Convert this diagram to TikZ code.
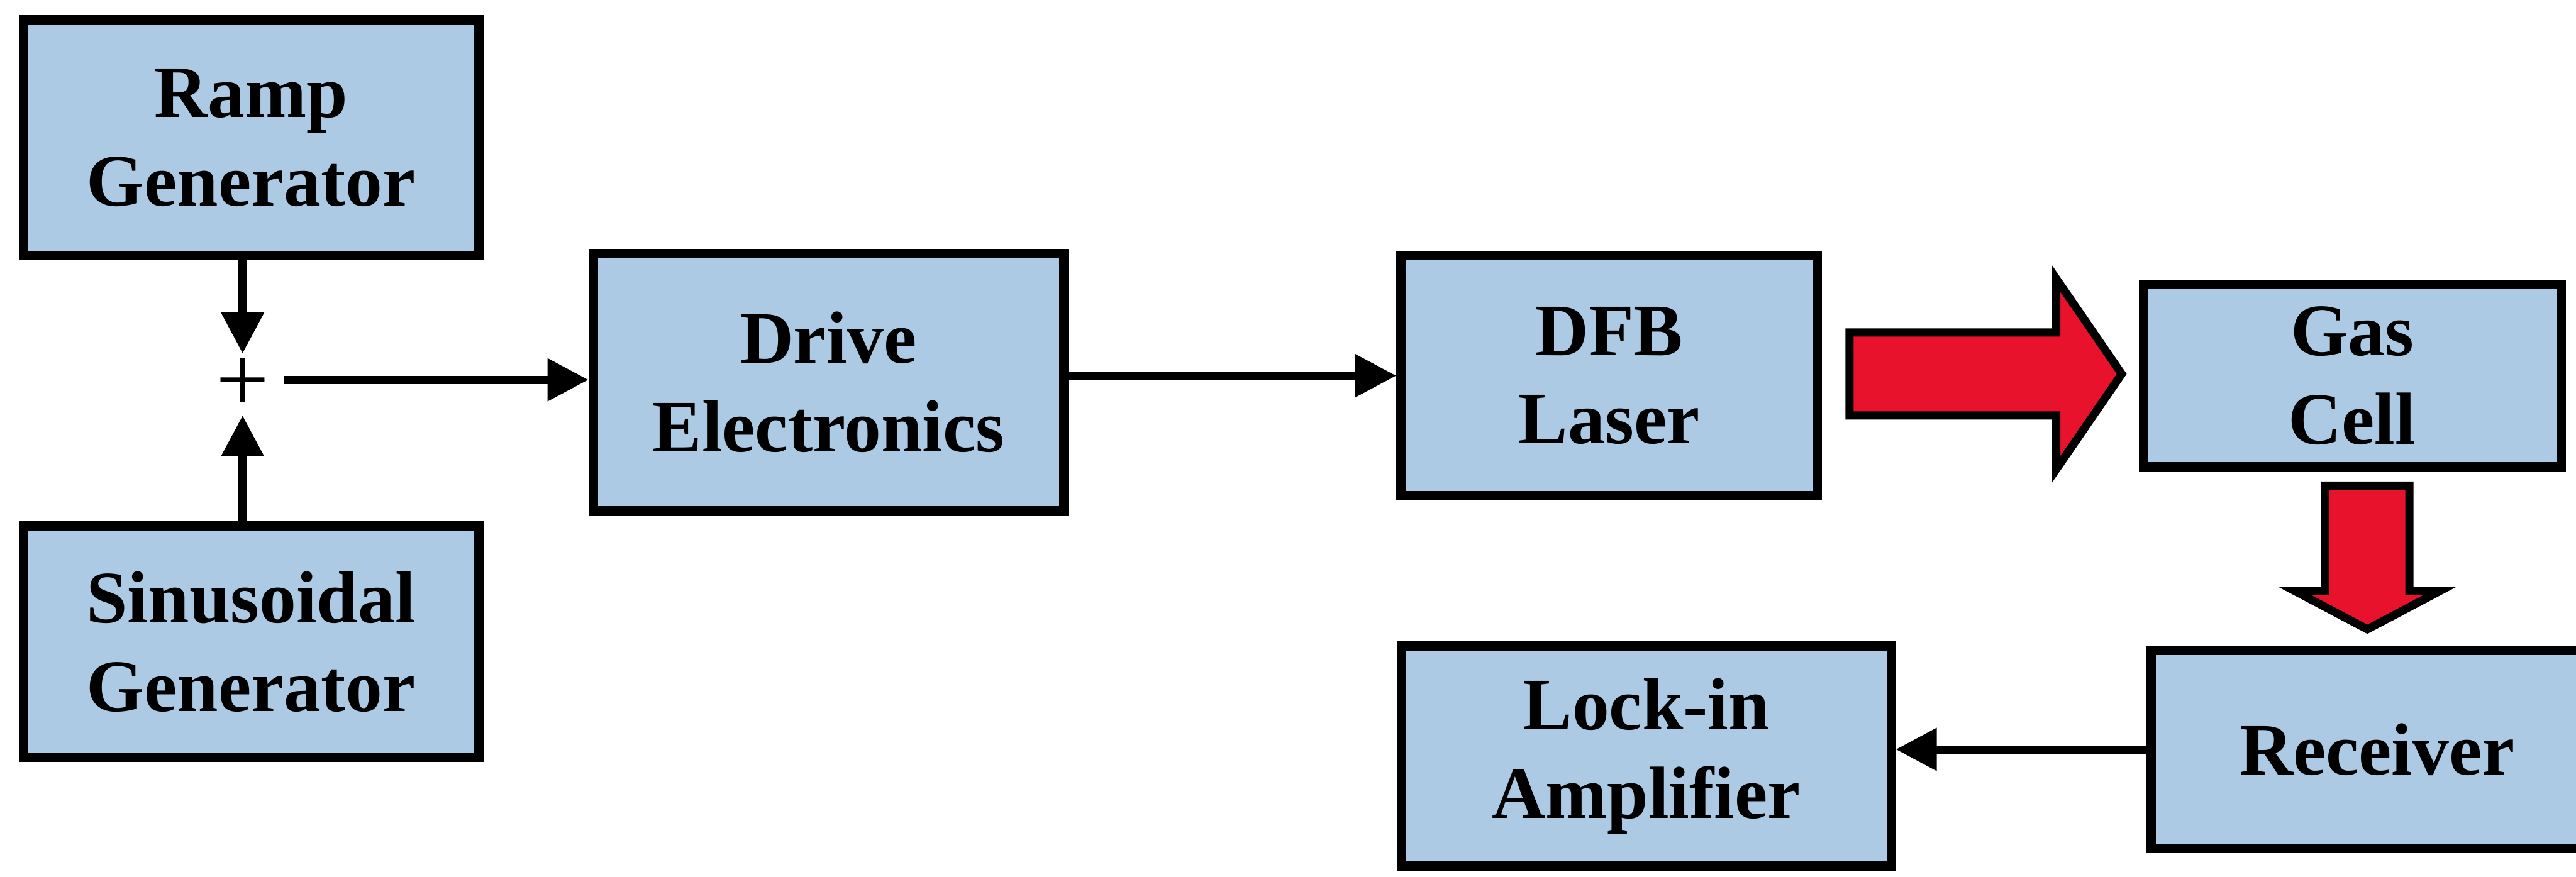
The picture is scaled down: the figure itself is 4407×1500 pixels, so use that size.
\documentclass[tikz,border=0pt]{standalone}
\usepackage{fontspec}
\setmainfont{Liberation Serif}
\usetikzlibrary{arrows.meta,calc}
\definecolor{boxblue}{RGB}{172,202,228}
\definecolor{laserred}{RGB}{232,18,45}
\begin{document}
\begin{tikzpicture}[x=0.01cm,y=-0.01cm,
  blk/.style={draw=black, line width=0.16cm, fill=boxblue, rectangle, inner sep=0pt,
              align=center, font=\fontsize{36}{43}\selectfont\bfseries},
  arr/.style={line width=0.14cm, -{Triangle[length=0.7cm,width=0.7cm]}},
  redarr/.style={draw=black, fill=laserred, line width=0.14cm, line join=miter},
  plussign/.style={font=\fontsize{46}{46}\selectfont, inner sep=0pt, outer sep=0pt}
]
\useasboundingbox (0,0) rectangle (4407,1500);
\clip (0,0) rectangle (4407,1500);
\fill[white] (0,0) rectangle (4407,1500);

% boxes
\node[blk, minimum width=7.79cm, minimum height=4.03cm] (ramp) at (429.5,235.5) {Ramp\\Generator};
\node[blk, minimum width=7.79cm, minimum height=3.96cm] (sin) at (429.5,1098) {Sinusoidal\\Generator};
\node[blk, minimum width=8.05cm, minimum height=4.40cm] (drive) at (1417.5,654) {Drive\\Electronics};
\node[blk, minimum width=7.12cm, minimum height=4.10cm] (dfb) at (2753,643) {DFB\\Laser};
\node[blk, minimum width=7.14cm, minimum height=3.12cm] (gas) at (4024,643) {Gas\\Cell};
\node[blk, minimum width=7.74cm, minimum height=3.39cm] (recv) at (4067,1282.5) {Receiver};
\node[blk, minimum width=8.37cm, minimum height=3.76cm] (lock) at (2816.5,1294) {Lock-in\\Amplifier};

% summing point
\node[plussign] (plus) at (415,658) {+};
\coordinate (pn) at ($(plus.center)+(0,-53)$);
\coordinate (ps) at ($(plus.center)+(0,53)$);
\coordinate (pe) at ($(plus.center)+(70,-8)$);

% black connectors
\draw[arr] (pn |- ramp.south) -- (pn);
\draw[arr] (ps |- sin.north) -- (ps);
\draw[arr] (pe) -- (pe -| drive.west);
\draw[arr] (dfb.west -| drive.east) -- (dfb.west);
\draw[arr] (recv.west) -- (recv.west -| lock.east);

% red block arrow DFB -> Gas Cell
\coordinate (r1) at ($(dfb.east)+(47,-3)$);
\coordinate (r2) at ($(gas.west)+(-29,-3)$);
\draw[redarr] ($(r1)+(0,-71)$) -- ($(r2)+(-112,-71)$) -- ($(r2)+(-112,-163)$) -- (r2)
  -- ($(r2)+(-112,163)$) -- ($(r2)+(-112,71)$) -- ($(r1)+(0,71)$) -- cycle;

% red block arrow Gas Cell -> Receiver
\coordinate (d1) at ($(gas.south)+(26,24)$);
\coordinate (d2) at ($(recv.north)+(-17,-28)$);
\draw[redarr] ($(d1)+(-72,0)$) -- ($(d2)+(-72,-66)$) -- ($(d2)+(-125,-66)$) -- (d2)
  -- ($(d2)+(125,-66)$) -- ($(d2)+(72,-66)$) -- ($(d1)+(72,0)$) -- cycle;
\end{tikzpicture}
\end{document}
